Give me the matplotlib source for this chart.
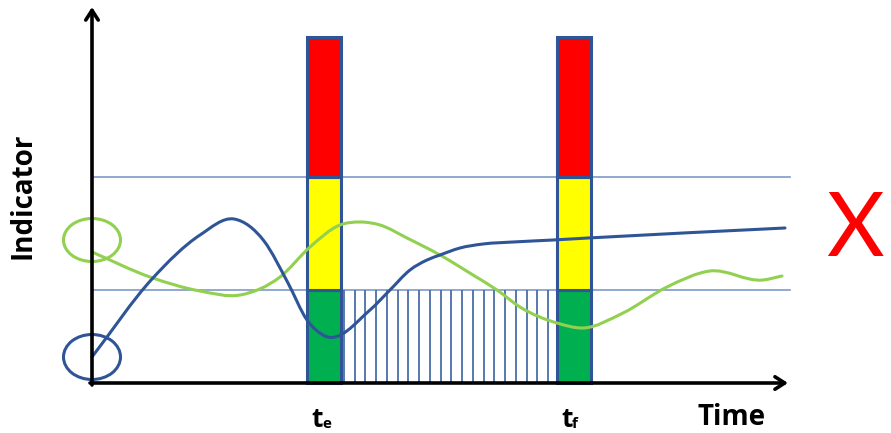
import numpy as np
import matplotlib
matplotlib.use("Agg")
import matplotlib.pyplot as plt
import matplotlib.patches as mpatches
from matplotlib.path import Path

# curves (time, indicator), origin at the axis corner
blue_t = [0, 60, 108, 142, 172, 196, 215, 233, 278, 298, 318, 335, 348, 368, 391, 421, 461, 496, 693]
blue_v = [26, 104, 148, 164, 142, 100, 63, 47, 73, 93, 113, 123, 128, 135, 139, 141, 143, 145, 155]
green_t = [0, 58, 108, 148, 188, 218, 248, 268, 288, 315, 348, 381, 405, 428, 465, 491, 531, 575, 618, 671, 690]
green_v = [131, 106, 92, 88, 106, 136, 158, 161, 158, 145, 128, 108, 93, 76, 60, 55, 70, 96, 112, 103, 107]

# thresholds and event bars
thresholds = [93, 206]
bar_top = 346
bar_starts = [215, 465]
bar_width = 34
bar_labels = ["e", "f"]
zone_colors = ["#00b050", "#ffff00", "#ff0000"]
hatch_count = 20

BLUE = "#2f5597"
GREEN = "#92d050"
THIN = "#7f9bc8"


def smooth_path(xs, ys):
    # cubic Hermite through the points (slopes from neighbours), as Bezier segments
    x = np.asarray(xs, float)
    y = np.asarray(ys, float)
    d = np.diff(y) / np.diff(x)
    m = np.empty_like(x)
    m[0], m[-1] = d[0], d[-1]
    h = np.diff(x)
    m[1:-1] = (d[:-1] * h[1:] + d[1:] * h[:-1]) / (h[:-1] + h[1:])
    verts = [(x[0], y[0])]
    codes = [Path.MOVETO]
    for i in range(len(x) - 1):
        dx = (x[i + 1] - x[i]) / 3
        verts += [(x[i] + dx, y[i] + m[i] * dx),
                  (x[i + 1] - dx, y[i + 1] - m[i + 1] * dx),
                  (x[i + 1], y[i + 1])]
        codes += [Path.CURVE4] * 3
    return Path(verts, codes)


fig = plt.figure(figsize=(8.91, 4.33), dpi=100)
ax = fig.add_axes([0, 0, 1, 1])
ax.set_xlim(-92, 799)
ax.set_ylim(-50, 383)
ax.axis("off")

# threshold lines
for th in thresholds:
    ax.plot([0, 698], [th, th], color=THIN, lw=1.2, zorder=1)

# hatched zone between the two events
x0 = bar_starts[0] + bar_width + 3
x1 = bar_starts[1] - 9
ax.vlines(np.linspace(x0, x1, hatch_count), 0, thresholds[0], color="#4a6ea8", lw=1.3, zorder=1)

# event bars
bounds = [0] + thresholds + [bar_top]
for bs in bar_starts:
    for k, c in enumerate(zone_colors):
        ax.add_patch(mpatches.Rectangle((bs, bounds[k]), bar_width, bounds[k + 1] - bounds[k],
                                        facecolor=c, edgecolor=BLUE, lw=2.2, zorder=2))

# curves
ax.add_patch(mpatches.PathPatch(smooth_path(green_t, green_v), facecolor="none",
                                edgecolor=GREEN, lw=2.2, capstyle="round", zorder=3))
ax.add_patch(mpatches.PathPatch(smooth_path(blue_t, blue_v), facecolor="none",
                                edgecolor=BLUE, lw=2.2, capstyle="round", zorder=4))

# start-point circles
ax.add_patch(mpatches.Ellipse((0, 143), 57, 43, facecolor="none", edgecolor=GREEN, lw=2.2, zorder=5))
ax.add_patch(mpatches.Ellipse((blue_t[0], blue_v[0]), 57, 45, facecolor="none", edgecolor=BLUE, lw=2.2, zorder=5))

# axes arrows
arrow = dict(arrowstyle="->,head_length=0.7,head_width=0.45", lw=2.6, color="black",
             shrinkA=0, shrinkB=0)
ax.annotate("", xy=(0, 376), xytext=(0, -2), arrowprops=arrow, zorder=6)
ax.annotate("", xy=(696, 0), xytext=(-2, 0), arrowprops=arrow, zorder=6)

# labels
font = "Open Sans"
ax.text(-69, 187, "Indicator", rotation=90, ha="center", va="center",
        fontsize=20, fontweight="bold", family=font)
ax.text(606, -42, "Time", ha="left", va="baseline", fontsize=20, fontweight="bold", family=font)
for bs, sub in zip(bar_starts, bar_labels):
    ax.text(bs + 4, -44, "t", ha="left", va="baseline", fontsize=19, fontweight="bold", family=font)
    ax.text(bs + 15, -45, sub, ha="left", va="baseline", fontsize=11, fontweight="bold", family=font)

ax.text(734, 152, "X", ha="left", va="center", color="#ff0000", fontsize=64, family="Lato")

fig.savefig("out.png", dpi=100)
